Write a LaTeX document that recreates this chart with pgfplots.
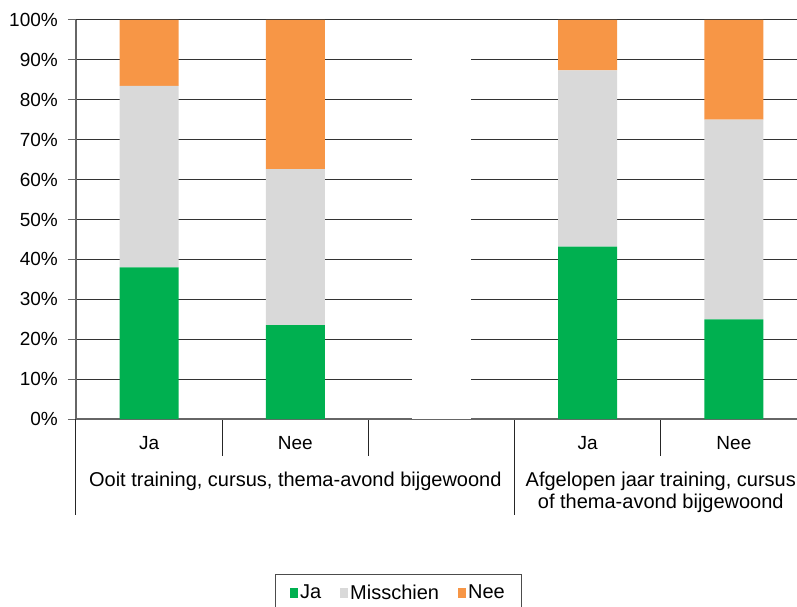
\documentclass[border=0pt]{standalone}
\usepackage{fontspec}
\setmainfont{Liberation Sans}
\usepackage{pgfplots}
\pgfplotsset{compat=1.18}
\definecolor{cja}{HTML}{00B050}
\definecolor{cmis}{HTML}{D9D9D9}
\definecolor{cnee}{HTML}{F79646}
\newcommand\fs{\fontsize{19}{23}\selectfont}
\newcommand\fl{\fontsize{20}{24}\selectfont}
\begin{document}
\begin{tikzpicture}[font=\fs]
\useasboundingbox (-76pt,-188pt) rectangle (721pt,419pt);
\begin{axis}[
  at={(0pt,0pt)}, anchor=south west,
  scale only axis, width=731pt, height=399pt,
  xmin=-0.5, xmax=4.5, ymin=0, ymax=100,
  clip=false,
  ybar stacked, bar width=59pt,
  axis lines*=left,
  axis line style={-, draw=black!60, line width=1.5pt},
  ytick={0,10,...,100},
  yticklabels={0\%,10\%,20\%,30\%,40\%,50\%,60\%,70\%,80\%,90\%,100\%},
  ymajorgrids, grid style={black!80, line width=1pt},
  tick align=outside, major tick length=8pt,
  ytick style={draw=black!60, line width=1pt},
  xtick={0,1,3,4}, xticklabels={Ja,Nee,Ja,Nee},
  xtick style={draw=none},
  xticklabel style={anchor=base, yshift=-22pt, font=\fs},
  yticklabel style={anchor=east, inner sep=0pt, xshift=-10pt, font=\fs},
  legend style={at={(0.2716,-0.3885)}, anchor=north west, draw=black!70,
    line width=1pt, font=\fl, inner xsep=15pt, inner ysep=8pt,
    /tikz/every even column/.append style={column sep=17pt}},
  legend columns=-1,
  legend image code/.code={\fill[#1] (0pt,-5pt) rectangle (8pt,5pt);},
]
\addplot[fill=cja, draw=none] coordinates {(0,38.0) (1,23.5) (2,0) (3,43.2) (4,25.0)};
\addplot[fill=cmis, draw=none] coordinates {(0,45.5) (1,39.1) (2,0) (3,44.2) (4,50.0)};
\addplot[fill=cnee, draw=none] coordinates {(0,16.5) (1,37.4) (2,0) (3,12.6) (4,25.0)};
\addplot[fill=white, draw=none, forget plot] coordinates {(0,0) (1,0) (2,100) (3,0) (4,0)};
\legend{Ja, Misschien, Nee}
\draw[black!60, line width=1.5pt] (axis cs:-0.5,0) -- (axis cs:4.5,0);
\draw[black!85, line width=1pt] (axis cs:-0.5,0) -- ++(0pt,-96pt);
\draw[black!85, line width=1pt] (axis cs:2.5,0) -- ++(0pt,-96pt);
\draw[black!85, line width=1pt] (axis cs:4.5,0) -- ++(0pt,-96pt);
\draw[black!85, line width=1pt] (axis cs:0.5,0) -- ++(0pt,-37pt);
\draw[black!85, line width=1pt] (axis cs:1.5,0) -- ++(0pt,-37pt);
\draw[black!85, line width=1pt] (axis cs:3.5,0) -- ++(0pt,-37pt);
\node[anchor=base, yshift=-67pt, font=\fl] at (axis cs:1,0) {Ooit training, cursus, thema-avond bijgewoond};
\node[anchor=base, yshift=-67pt, font=\fl] at (axis cs:3.5,0) {Afgelopen jaar training, cursus};
\node[anchor=base, yshift=-89.7pt, font=\fl] at (axis cs:3.5,0) {of thema-avond bijgewoond};
\end{axis}
\end{tikzpicture}
\end{document}
